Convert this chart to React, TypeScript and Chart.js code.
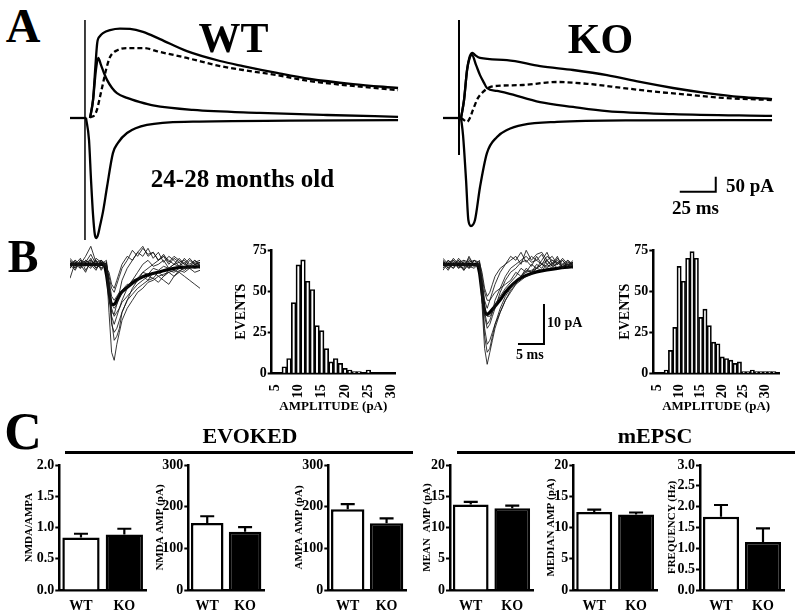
import React, { useEffect, useRef } from "react";
import { Chart, registerables } from "chart.js";
Chart.register(...registerables);

const FONT = '"Liberation Serif", "Times New Roman", Times, serif';
Chart.defaults.font.family = FONT;
Chart.defaults.color = "#000";

// ---------------- DATA ----------------
// Panel A: evoked currents (time in ms after stimulus, current in pA, outward positive)
const WT_A_TOP_T = [3.5, 5.6, 7.3, 8.5, 10.4, 12.5, 17.4, 24.3, 31.3, 40.3, 52.1, 70.8, 93.8, 109.7, 133.3, 156.3, 186.1, 217.4];
const WT_A_TOP_I = [0, 60, 177, 250, 273, 283, 293, 298, 297, 287, 263, 223, 190, 173, 150, 130, 113, 100];
const WT_A_MID_T = [3.5, 5.6, 7.6, 9.2, 11.1, 13.2, 15.3, 18.8, 22.2, 29.2, 38.2, 47.2, 75, 121.5, 168, 217.4];
const WT_A_MID_I = [0, 60, 160, 200, 177, 150, 127, 100, 83, 67, 53, 42, 27, 17, 10, 4];
const WT_A_NMDA_T = [3.5, 6.2, 8.3, 10.4, 12.5, 14.6, 17.4, 22.9, 29.2, 40.3, 52.1, 70.8, 93.8, 109.7, 133.3, 156.3, 186.1, 217.4];
const WT_A_NMDA_I = [3, 7, 27, 70, 115, 160, 203, 227, 233, 233, 220, 200, 173, 160, 143, 123, 107, 93];
const WT_A_NEG_T = [0.7, 2.8, 4.2, 5.6, 6.9, 8.0, 9.0, 10.4, 12.5, 15.3, 19.4, 22.9, 29.2, 43, 75, 142, 217.4];
const WT_A_NEG_I = [0, -73, -207, -323, -390, -400, -390, -360, -313, -230, -117, -83, -50, -23, -12, -9, -7];
const WT_A_BASE_T = [-10.4, 1];
const WT_A_BASE_I = [0, 0];
const WT_A_STIM_I = [327, -407];

const KO_A_TOP_T = [1.4, 3.5, 5.6, 7.6, 9.4, 11.1, 14.6, 33.3, 56.3, 79.2, 102.8, 125.7, 148.6, 172.2, 195.1, 217.4];
const KO_A_TOP_I = [0, 60, 160, 207, 217, 210, 200, 193, 173, 160, 143, 120, 100, 83, 70, 63];
const KO_A_MID_T = [1.4, 3.5, 5.6, 7.6, 9.0, 11.8, 14.6, 17.4, 19.4, 26.4, 33.3, 56.3, 79.2, 102.8, 148.6, 217.4];
const KO_A_MID_I = [0, 60, 160, 203, 210, 177, 143, 117, 100, 90, 83, 53, 37, 23, 13, 7];
const KO_A_NMDA_T = [1.4, 3.5, 5.6, 7.6, 9.7, 13.2, 16.7, 21.5, 26.4, 44.4, 68.1, 91, 113.9, 137.5, 160.4, 183.3, 217.4];
const KO_A_NMDA_I = [0, -7, -13, 0, 27, 67, 87, 103, 107, 110, 120, 113, 100, 87, 77, 67, 60];
const KO_A_NEG_T = [1.4, 2.8, 4.9, 6.5, 8.3, 11.1, 14.6, 19.4, 26.4, 33.3, 44.4, 68.1, 125.7, 217.4];
const KO_A_NEG_I = [0, -57, -207, -340, -360, -340, -230, -117, -63, -40, -23, -13, -8, -7];
const KO_A_BASE_T = [-11.1, 1];
const KO_A_BASE_I = [0, 0];
const KO_A_STIM_I = [327, -123];

// Panel B: mEPSC traces (ms, pA)
const B_T = [0, 1, 2, 3, 4, 5, 6, 7, 7.5, 8, 8.5, 9, 9.5, 10, 11, 12, 13, 14, 15, 16, 17, 18, 19, 20, 21, 22, 23, 24, 25];
const WT_B_SWEEPS = [
  [0.5, -1, 1, -0.5, 1.5, -1, 0.5, -1, -12, -22, -24, -20, -17, -14, -11, -9, -7, -6, -4.5, -4, -3, -2.5, -2, -1.5, -2, -0.5, -1, 0, -1],
  [-1, 0.5, -0.5, 1, 0, 1, -1, 0, -5, -14, -19, -18, -16, -12, -9, -7.5, -6, -5, -4, -3.5, -4.5, -3, -2, -3, -1.5, -2, -1, -2, -1.5],
  [1, -0.5, 0, 2, 4.5, 0.5, 1, -0.5, -8, -13, -15, -13, -11, -9, -6, -4, -2, 0, 1, -0.5, 0, 1, -1, 0, 0.5, -1, 1, 0, 0.5],
  [0, 1, -1, 0.5, 2.5, 0, -1, 0.5, -6, -12, -12.5, -10, -7, -4, -1, 1, 3, 2, 4, 1.5, 3, 0.5, 2, 1, -0.5, 1.5, 0, 1, -0.5],
  [-0.5, 0, 1.5, -1.5, 0.5, -1, 0, 1, -4, -8, -9, -8, -7, -6.5, -5, -5, -4, -3, -4, -2, -3, -4, -5, -3, -2, -3, -4, -5, -6],
  [1, -1, 0.5, 0, -1, 1.5, 0.5, -0.5, -3, -6, -7, -5, -3, -1, 1, 3.5, 2, 4, 2.5, 3, 1, 2, 0, 1.5, 0.5, 1, -0.5, 0.5, 1],
  [-3.5, 0.5, -0.5, 0.5, 1, -0.5, 1, 0, -5, -10, -11, -10, -8.5, -7, -5.5, -4, -3.5, -2, -2.5, -1, -1.5, -0.5, -1, 0, -0.5, 0.5, -1, 0, 0],
  [0, -1.5, 1, 0.5, -0.5, 1, -1.5, 0.5, -7, -15, -17, -16, -14, -12, -9, -6, -4, -2, -1, 0, 1, 2, 1, 0, 1.5, 0, -0.5, 1, 0],
  [1.5, 0, -1, 1, 0, -1.5, 1, -1, -2, -5, -6, -4, -2, 0, 2, 1, 3, 4.5, 2, 3, 1, 2.5, 0.5, 2, 1, 0, 1.5, 0, 0.5],
  [-1, 1, 0, -2, 1, 0, 0.5, 0, -6, -11, -13, -12, -11, -9.5, -8, -6.5, -5, -4, -3, -3.5, -2, -3, -1.5, -2, -1, -1.5, -0.5, -1, -0.5],
];
const WT_B_MEAN_T = [0, 6.5, 7, 7.5, 8, 8.5, 9, 9.8, 10.9, 12.5, 14, 17.3, 20.5, 25];
const WT_B_MEAN_I = [0, 0, -2.5, -7, -10, -10, -9, -7.2, -5.9, -4.2, -3.1, -1.85, -0.9, -0.6];
const KO_B_SWEEPS = [
  [0.5, -1, 1, 0, -1.5, 1, 0, -0.5, -10, -21, -25, -22, -19, -16, -12, -9, -7, -5, -4, -3, -2.5, -1, -1.5, 0, -1, 0.5, -0.5, 0, -1],
  [-1, 1, -0.5, 1.5, 0, -1, 1, 0, -7, -16, -20, -19, -17, -15, -11, -8, -6, -4, -3, -1.5, -2, -1, 0, -1, 0.5, -1, 0, 1, -0.5],
  [1.5, 0, -1, 0.5, 1, -0.5, -1, 0.5, -6, -13, -16, -15, -13, -11, -7, -4, -2, -1, 0.5, 1, -0.5, 2, 0, 1, -0.5, 1.5, 0, -0.5, 1],
  [0, -1.5, 0.5, -1, 1, 0.5, 1, -0.5, -5, -11, -13, -13, -12, -10, -8, -6, -4.5, -3, -1, -2, 0, -1, 1, 3, 0, 2, -1, 0.5, 0],
  [-0.5, 1, 0, -0.5, -1, 2, -0.5, 1, -3, -7, -9, -9, -8, -7, -6, -5, -4, -2, -3, -1, -2, 0, -1, 1, -0.5, 0, 1, -1, 0.5],
  [1, -0.5, 1.5, 0, 0.5, -1, 0, 0, -4, -9, -11, -9, -7, -5, -2, 0, 1, 2, 0, 3.5, 1, 2.5, 3, 1, 2, 0, 1, -0.5, 0.5],
  [0.5, 0, -1, 1, -0.5, 1.5, 0, -1, -5, -12, -15, -14, -12, -9, -6, -3, -1, 0, 1, 2, 0.5, 1, 2.5, 0, 1, 0.5, -1, 1, 0],
  [-1.5, 0.5, 1, -1, 0, -0.5, 1, 0.5, -2, -6, -8, -7, -5, -3, -1, 0, 2, 1, 3, 0.5, 2, 1, 0, 2, 1, 0, 1.5, 0, 0.5],
  [1, -1, 0, 1, -1.5, 0, -0.5, 0, -8, -18, -22, -21, -18, -15, -12, -9, -6.5, -5, -3, -2, -1.5, -1, 0, -0.5, 0, 1, -0.5, 0, 0],
];
const KO_B_MEAN_T = [0, 6.5, 7, 7.5, 8, 8.5, 9, 10, 11, 12, 13.5, 15, 16.7, 18, 20, 22, 25];
const KO_B_MEAN_I = [0, 0, -2, -7, -11.5, -12.5, -12, -10.5, -8.9, -7, -4.9, -3.4, -2.4, -1.9, -1.4, -1, -0.6];

// Panel B: amplitude histograms (bin centre pA, events)
const WT_BINS = [7, 8, 9, 10, 11, 12, 13, 14, 15, 16, 17, 18, 19, 20, 21, 22, 23, 24, 25];
const WT_COUNTS = [4, 9, 43, 66, 69, 56, 51, 29, 26, 15, 7, 9, 6, 3, 2, 1, 1, 0, 2];
const KO_BINS = [7, 8, 9, 10, 11, 12, 13, 14, 15, 16, 17, 18, 19, 20, 21, 22, 23, 24, 25, 26, 27, 28, 29, 30, 31, 32];
const KO_COUNTS = [2, 14, 28, 65, 56, 70, 74, 70, 34, 39, 29, 19, 18, 10, 9, 8, 6, 7, 1, 1, 2, 1, 1, 1, 1, 1];
const HIST_X_TICKS = [5, 10, 15, 20, 25, 30];
const HIST_Y_TICKS = [0, 25, 50, 75];

// Panel C: group means and SEM
const GROUPS = ["WT", "KO"];
const NMDA_AMPA_MEAN = [0.84, 0.89];
const NMDA_AMPA_SEM = [0.06, 0.09];
const NMDA_AMP_MEAN = [161, 140];
const NMDA_AMP_SEM = [16, 11];
const AMPA_AMP_MEAN = [194, 160];
const AMPA_AMP_SEM = [12, 12];
const MEAN_AMP_MEAN = [13.7, 13.1];
const MEAN_AMP_SEM = [0.4, 0.4];
const MEDIAN_AMP_MEAN = [12.5, 12.1];
const MEDIAN_AMP_SEM = [0.35, 0.3];
const FREQ_MEAN = [1.76, 1.15];
const FREQ_SEM = [0.28, 0.33];
const TICKS_RATIO = [0, 0.5, 1.0, 1.5, 2.0];
const TICKS_300 = [0, 100, 200, 300];
const TICKS_20 = [0, 5, 10, 15, 20];
const TICKS_FREQ = [0, 0.5, 1.0, 1.5, 2.0, 2.5, 3.0];

// Scale bars
const SCALE_A_MS = 25;
const SCALE_A_PA = 50;
const SCALE_B_MS = 5;
const SCALE_B_PA = 10;

// ---------------- helpers ----------------
const bold = (size: number) => ({ family: FONT, size, weight: "bold" as const });
const pts = (t: number[], v: number[]) => t.map((x, i) => ({ x, y: v[i] }));

const solid = (data: any[], width = 2.3) => ({
  data,
  borderColor: "#000",
  borderWidth: width,
  cubicInterpolationMode: "monotone",
  fill: false,
  pointRadius: 0,
});

function traceConfig(datasets: any[], xMin: number, xMax: number, yMin: number, yMax: number) {
  return {
    type: "line",
    data: { datasets },
    options: {
      responsive: false,
      animation: false,
      devicePixelRatio: 1,
      events: [],
      layout: { padding: 0 },
      plugins: { legend: { display: false }, tooltip: { enabled: false } },
      elements: { point: { radius: 0 } },
      scales: {
        x: { type: "linear", display: false, min: xMin, max: xMax },
        y: { type: "linear", display: false, min: yMin, max: yMax },
      },
    },
  };
}

function histConfig(bins: number[], counts: number[], xMin: number, xMax: number, yW: number, xH: number) {
  return {
    type: "bar",
    data: {
      datasets: [
        {
          data: pts(bins, counts),
          backgroundColor: "#fff",
          borderColor: "#000",
          borderWidth: 1.7,
          barPercentage: 1,
          categoryPercentage: 1,
          borderSkipped: "bottom",
        },
      ],
    },
    options: {
      responsive: false,
      animation: false,
      devicePixelRatio: 1,
      events: [],
      layout: { padding: { top: 8, right: 2, left: 0, bottom: 0 } },
      plugins: { legend: { display: false }, tooltip: { enabled: false } },
      scales: {
        x: {
          type: "linear",
          min: xMin,
          max: xMax,
          offset: false,
          afterBuildTicks: (s: any) => { s.ticks = HIST_X_TICKS.map((v) => ({ value: v })); },
          afterFit: (s: any) => { s.height = xH; s.paddingLeft = 0; s.paddingRight = 0; },
          grid: { display: false },
          border: { display: true, width: 2.5, color: "#000" },
          ticks: { font: bold(14), color: "#000", minRotation: 90, maxRotation: 90, padding: 3, autoSkip: false },
          title: { display: true, text: "AMPLITUDE (pA)", font: bold(13), color: "#000", padding: 0 },
        },
        y: {
          min: 0,
          max: 75,
          afterBuildTicks: (s: any) => { s.ticks = HIST_Y_TICKS.map((v) => ({ value: v })); },
          afterFit: (s: any) => { s.width = yW; s.paddingTop = 0; s.paddingBottom = 0; },
          grid: { display: true, drawOnChartArea: false, drawTicks: true, tickLength: 4, tickWidth: 2, tickColor: "#000" },
          border: { display: true, width: 2.5, color: "#000" },
          ticks: { font: bold(14), color: "#000", padding: 1 },
          title: { display: true, text: "EVENTS", font: bold(14), color: "#000", padding: 0 },
        },
      },
    },
  };
}

function barConfig(means: number[], sems: number[], yTicks: number[], decimals: number, title: string, yW: number) {
  const semPlugin = {
    id: "semBars",
    afterDatasetsDraw(chart: any) {
      const meta = chart.getDatasetMeta(0);
      const ys = chart.scales.y;
      const ctx = chart.ctx;
      ctx.save();
      ctx.strokeStyle = "#000";
      ctx.lineWidth = 2.2;
      meta.data.forEach((bar: any, i: number) => {
        const top = ys.getPixelForValue(means[i] + sems[i]);
        const cap = 14;
        ctx.beginPath();
        ctx.moveTo(bar.x, bar.y);
        ctx.lineTo(bar.x, top);
        ctx.moveTo(bar.x - cap / 2, top);
        ctx.lineTo(bar.x + cap / 2, top);
        ctx.stroke();
      });
      ctx.restore();
    },
  };
  return {
    type: "bar",
    data: {
      labels: GROUPS,
      datasets: [
        {
          data: means,
          backgroundColor: ["#fff", "#000"],
          borderColor: "#000",
          borderWidth: 2.5,
          barPercentage: 0.86,
          categoryPercentage: 1,
          borderSkipped: "bottom",
        },
      ],
    },
    plugins: [semPlugin],
    options: {
      responsive: false,
      animation: false,
      devicePixelRatio: 1,
      events: [],
      layout: { padding: { top: 8, right: 4, left: 0, bottom: 0 } },
      plugins: { legend: { display: false }, tooltip: { enabled: false } },
      scales: {
        x: {
          afterFit: (s: any) => { s.height = 23; s.paddingLeft = 0; s.paddingRight = 0; },
          grid: { display: false },
          border: { display: true, width: 2.5, color: "#000" },
          ticks: { font: bold(14), color: "#000", padding: 0 },
        },
        y: {
          min: yTicks[0],
          max: yTicks[yTicks.length - 1],
          afterBuildTicks: (s: any) => { s.ticks = yTicks.map((v) => ({ value: v })); },
          afterFit: (s: any) => { s.width = yW; s.paddingTop = 0; s.paddingBottom = 0; },
          grid: { display: true, drawOnChartArea: false, drawTicks: true, tickLength: 4, tickWidth: 2, tickColor: "#000" },
          border: { display: true, width: 2.5, color: "#000" },
          ticks: { font: bold(14), color: "#000", padding: 1, callback: (v: any) => Number(v).toFixed(decimals) },
          title: { display: true, text: title, font: bold(11), color: "#000", padding: 0 },
        },
      },
    },
  };
}

type Box = { left: number; top: number; width: number; height: number };

function ChartBox({ box, make }: { box: Box; make: () => any }) {
  const ref = useRef<HTMLCanvasElement>(null);
  useEffect(() => {
    const c = new Chart(ref.current as HTMLCanvasElement, make());
    return () => c.destroy();
  }, []);
  return (
    <canvas
      ref={ref}
      width={box.width}
      height={box.height}
      style={{ position: "absolute", left: box.left, top: box.top, width: box.width, height: box.height }}
    />
  );
}

function Label({ x, y, size, text, align = "center" }: { x: number; y: number; size: number; text: string; align?: string }) {
  const tx = align === "center" ? "-50%" : align === "right" ? "-100%" : "0";
  return (
    <div
      style={{
        position: "absolute",
        left: x,
        top: y,
        transform: `translate(${tx},-50%)`,
        fontFamily: FONT,
        fontWeight: "bold",
        fontSize: size,
        lineHeight: 1,
        whiteSpace: "nowrap",
        color: "#000",
      }}
    >
      {text}
    </div>
  );
}

// ---------------- chart builders ----------------
const A_Y_MIN = -423.3;
const A_Y_MAX = 343.3;

function wtA() {
  return traceConfig(
    [
      solid(pts(WT_A_BASE_T, WT_A_BASE_I)),
      { ...solid(pts([0, 0], WT_A_STIM_I), 1.5), cubicInterpolationMode: "default", tension: 0 },
      solid(pts(WT_A_NEG_T, WT_A_NEG_I)),
      solid(pts(WT_A_MID_T, WT_A_MID_I)),
      solid(pts(WT_A_TOP_T, WT_A_TOP_I)),
      { ...solid(pts(WT_A_NMDA_T, WT_A_NMDA_I)), borderDash: [5, 3] },
    ],
    -10.4,
    218.75,
    A_Y_MIN,
    A_Y_MAX
  );
}

function koA() {
  const bx = 178.3;
  const by = -245.7;
  return traceConfig(
    [
      solid(pts(KO_A_BASE_T, KO_A_BASE_I)),
      { ...solid(pts([0, 0], KO_A_STIM_I), 2), cubicInterpolationMode: "default", tension: 0 },
      solid(pts(KO_A_NEG_T, KO_A_NEG_I)),
      solid(pts(KO_A_MID_T, KO_A_MID_I)),
      solid(pts(KO_A_TOP_T, KO_A_TOP_I)),
      { ...solid(pts(KO_A_NMDA_T, KO_A_NMDA_I)), borderDash: [5, 3] },
      {
        ...solid([{ x: bx - SCALE_A_MS, y: by }, { x: bx, y: by }, { x: bx, y: by + SCALE_A_PA }], 2),
        cubicInterpolationMode: "default",
        tension: 0,
      },
    ],
    -11.11,
    218.06,
    A_Y_MIN,
    A_Y_MAX
  );
}

const B_Y_MIN = -25.175;
const B_Y_MAX = 6.075;

function sweepSets(sweeps: number[][]) {
  return sweeps.map((s) => ({
    data: pts(B_T, s),
    borderColor: "rgba(20,20,20,0.85)",
    borderWidth: 1,
    tension: 0,
    fill: false,
    pointRadius: 0,
  }));
}

function wtB() {
  return traceConfig(
    [...sweepSets(WT_B_SWEEPS), solid(pts(WT_B_MEAN_T, WT_B_MEAN_I), 3.2)],
    0,
    25,
    B_Y_MIN,
    B_Y_MAX
  );
}

function koB() {
  const bx = 19.42;
  const by = -19.9;
  return traceConfig(
    [
      ...sweepSets(KO_B_SWEEPS),
      solid(pts(KO_B_MEAN_T, KO_B_MEAN_I), 3.2),
      {
        ...solid([{ x: bx - SCALE_B_MS, y: by }, { x: bx, y: by }, { x: bx, y: by + SCALE_B_PA }], 2),
        cubicInterpolationMode: "default",
        tension: 0,
      },
    ],
    0,
    25,
    B_Y_MIN,
    B_Y_MAX
  );
}

export default function App() {
  return (
    <div style={{ position: "absolute", left: 0, top: 0, width: 800, height: 613, background: "#fff", overflow: "hidden" }}>
      {/* Panel A */}
      <ChartBox box={{ left: 70, top: 15, width: 330, height: 230 }} make={wtA} />
      <ChartBox box={{ left: 443, top: 15, width: 330, height: 230 }} make={koA} />
      {/* Panel B */}
      <ChartBox box={{ left: 70, top: 240, width: 130, height: 125 }} make={wtB} />
      <ChartBox box={{ left: 443, top: 240, width: 130, height: 125 }} make={koB} />
      <ChartBox box={{ left: 233, top: 242, width: 164, height: 172 }} make={() => histConfig(WT_BINS, WT_COUNTS, 4.3, 30.7, 38.7, 40.7)} />
      <ChartBox box={{ left: 617, top: 242, width: 164, height: 172 }} make={() => histConfig(KO_BINS, KO_COUNTS, 4.0, 33.2, 36.3, 40.7)} />
      {/* Panel C */}
      <ChartBox box={{ left: 23, top: 457, width: 127, height: 156 }} make={() => barConfig(NMDA_AMPA_MEAN, NMDA_AMPA_SEM, TICKS_RATIO, 1, "NMDA/AMPA", 36.3)} />
      <ChartBox box={{ left: 154, top: 457, width: 114, height: 156 }} make={() => barConfig(NMDA_AMP_MEAN, NMDA_AMP_SEM, TICKS_300, 0, "NMDA AMP (pA)", 34.3)} />
      <ChartBox box={{ left: 293, top: 457, width: 117, height: 156 }} make={() => barConfig(AMPA_AMP_MEAN, AMPA_AMP_SEM, TICKS_300, 0, "AMPA AMP (pA)", 35.3)} />
      <ChartBox box={{ left: 421, top: 457, width: 116, height: 156 }} make={() => barConfig(MEAN_AMP_MEAN, MEAN_AMP_SEM, TICKS_20, 0, "MEAN  AMP (pA)", 29)} />
      <ChartBox box={{ left: 545, top: 457, width: 116, height: 156 }} make={() => barConfig(MEDIAN_AMP_MEAN, MEDIAN_AMP_SEM, TICKS_20, 0, "MEDIAN AMP (pA)", 28.3)} />
      <ChartBox box={{ left: 666, top: 457, width: 122, height: 156 }} make={() => barConfig(FREQ_MEAN, FREQ_SEM, TICKS_FREQ, 1, "FREQUENCY (Hz)", 34)} />

      {/* Text */}
      <Label x={23} y={26} size={48} text="A" />
      <Label x={23} y={257} size={46} text="B" />
      <Label x={23} y={432} size={52} text="C" />
      <Label x={233.5} y={37.5} size={42} text="WT" />
      <Label x={600.5} y={38.5} size={42} text="KO" />
      <Label x={242.5} y={178} size={25} text="24-28 months old" />
      <Label x={726} y={185} size={19} text="50 pA" align="left" />
      <Label x={672} y={206.5} size={19} text="25 ms" align="left" />
      <Label x={547} y={323} size={14} text="10 pA" align="left" />
      <Label x={516} y={355} size={14} text="5 ms" align="left" />
      <Label x={250} y={436} size={22} text="EVOKED" />
      <Label x={655} y={436} size={22} text="mEPSC" />
      <div style={{ position: "absolute", left: 65, top: 450.5, width: 348, height: 3, background: "#000" }} />
      <div style={{ position: "absolute", left: 457, top: 450.5, width: 338, height: 3, background: "#000" }} />
    </div>
  );
}
